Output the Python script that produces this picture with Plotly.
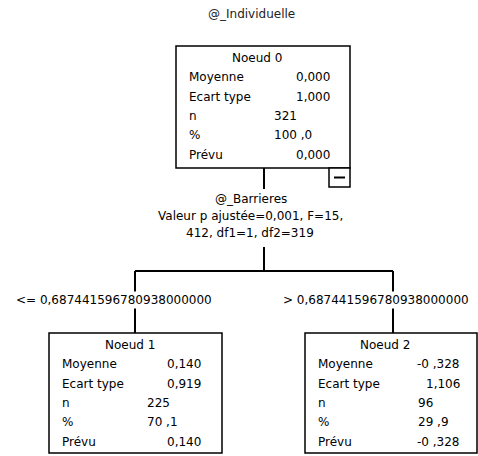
import plotly.graph_objects as go

# tree content
title = "@_Individuelle"
split_var = "@_Barrieres"
split_stats = ["Valeur p ajustée=0,001, F=15,", "412, df1=1, df2=319"]
conditions = ["<= 0,687441596780938000000", "> 0,687441596780938000000"]

node_titles = ["Noeud 0", "Noeud 1", "Noeud 2"]
stat_labels = ["Moyenne", "Ecart type", "n", "%", "Prévu"]
moyenne = [0.000, 0.140, -0.328]
ecart_type = [1.000, 0.919, 1.106]
n_obs = [321, 225, 96]
pourcent = [100.0, 70.1, 29.9]
prevu = [0.000, 0.140, -0.328]


def fmt(v, dec=3):
    # SPSS style french number formatting
    s = f"{abs(v):.{dec}f}".replace(".", ",")
    ent, frac = s.split(",")
    if v < 0:
        return f"-{ent} ,{frac}"
    if dec == 1:
        return f"{ent} ,{frac}"
    return s


FONT = "DejaVu Sans"
W, H = 478, 456

# node boxes (left, top, right, bottom)
boxes = [(176, 46, 350, 168), (49, 333, 222, 453), (305, 333, 477, 453)]
val_right = [156, 154, 157]
val_left = [96, 96, 111]

fig = go.Figure()
shapes = []
ann = []


def text(x, y, s, anchor="center", size=12, color="black", bg=None):
    d = dict(x=x, y=y, text=s, showarrow=False, xanchor=anchor, yanchor="middle",
             font=dict(family=FONT, size=size, color=color))
    if bg:
        d["bgcolor"] = bg
    ann.append(d)


for i, (x0, y0, x1, y1) in enumerate(boxes):
    shapes.append(dict(type="rect", x0=x0, y0=y0, x1=x1, y1=y1,
                       line=dict(color="black", width=1.5), fillcolor="white"))
    hy = y0 + 12
    text((x0 + x1) / 2 - 6, hy, node_titles[i])
    vals = [fmt(moyenne[i]), fmt(ecart_type[i]), str(n_obs[i]),
            fmt(pourcent[i], 1), fmt(prevu[i])]
    for r, (lab, v) in enumerate(zip(stat_labels, vals)):
        ry = hy + 19.3 * (r + 1)
        text(x0 + 11, ry, lab, anchor="left")
        if r in (2, 3):
            text(x0 + val_left[i], ry, v, anchor="left")
        else:
            text(x0 + val_right[i], ry, v, anchor="right")

# collapse button
shapes.append(dict(type="rect", x0=329, y0=168, x1=350, y1=187,
                   line=dict(color="black", width=1.5), fillcolor="white"))
shapes.append(dict(type="line", x0=334, y0=177.5, x1=345, y1=177.5,
                   line=dict(color="black", width=2)))

# connectors
for (a, b, c, d) in [(264, 168, 264, 189), (264, 247, 264, 271),
                     (135, 271, 393, 271), (135, 271, 135, 333), (393, 271, 393, 333)]:
    shapes.append(dict(type="line", x0=a, y0=b, x1=c, y1=d,
                       line=dict(color="black", width=2), layer="below"))

text(251, 14, title, size=12, color="#222222")
text(251, 199, split_var)
text(250, 216, split_stats[0])
text(250, 233, split_stats[1])
text(114, 300, conditions[0], bg="white")
text(376, 300, conditions[1], bg="white")

fig.update_layout(
    width=W, height=H,
    margin=dict(l=0, r=0, t=0, b=0),
    paper_bgcolor="white", plot_bgcolor="white",
    xaxis=dict(range=[0, W], visible=False, fixedrange=True),
    yaxis=dict(range=[H, 0], visible=False, fixedrange=True),
    shapes=shapes, annotations=ann, showlegend=False,
)

fig.write_html("out.html", config={"displayModeBar": False},
               post_script="document.body.style.margin='0px';")
